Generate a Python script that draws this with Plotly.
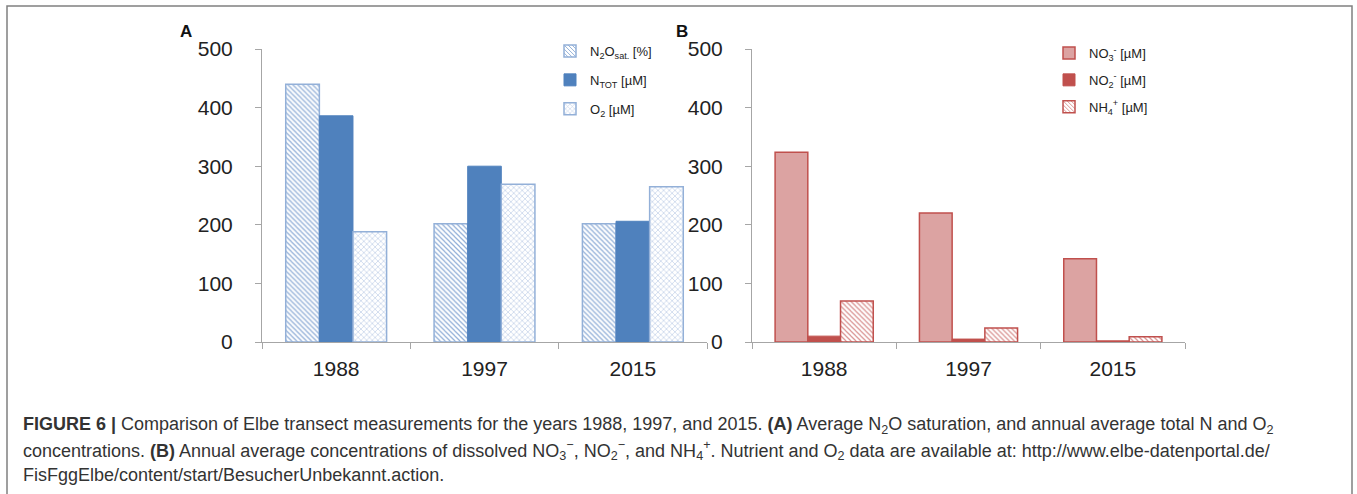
import plotly.graph_objects as go

years = ["1988", "1997", "2015"]
n2o_sat = [440, 202, 202]
n_tot = [386, 300, 206]
o2 = [188, 269, 265]
no3 = [324, 220, 142]
no2 = [10, 5, 2]
nh4 = [70, 24, 9]
y_ticks = [0, 100, 200, 300, 400, 500]

W, H = 1357, 494
def px_x(v): return v / W
def px_y(v): return 1 - v / H

BLUE = "#4F81BD"
BLUE_L = "#93B0D8"
RED = "#C0504D"
RED_FILL = "#DCA3A2"
RED_L = "#DA9594"

fig = go.Figure()

fig.add_trace(go.Bar(x=years, y=n2o_sat, name="N<sub>2</sub>O<sub>sat.</sub> [%]",
                     xaxis="x", yaxis="y", legend="legend", legendgroup="a1",
                     marker=dict(color="white", line=dict(color=BLUE_L, width=1.5),
                                 pattern=dict(shape="\\", fgcolor=BLUE_L, bgcolor="white", size=3.5, solidity=0.35))))
fig.add_trace(go.Bar(x=years, y=n_tot, name="N<sub>TOT</sub> [µM]",
                     xaxis="x", yaxis="y", legend="legend", legendgroup="a2",
                     marker=dict(color=BLUE, line=dict(color=BLUE, width=1))))
fig.add_trace(go.Bar(x=years, y=o2, name="O<sub>2</sub> [µM]",
                     xaxis="x", yaxis="y", legend="legend", legendgroup="a3",
                     marker=dict(color="white", line=dict(color=BLUE_L, width=1.5),
                                 pattern=dict(shape="x", fgcolor="#BCCDE6", bgcolor="white", size=4, solidity=0.3))))

fig.add_trace(go.Bar(x=years, y=no3, name="NO<sub>3</sub><sup>-</sup> [µM]",
                     xaxis="x2", yaxis="y2", legend="legend2", legendgroup="b1",
                     marker=dict(color=RED_FILL, line=dict(color=RED, width=1.5))))
fig.add_trace(go.Bar(x=years, y=no2, name="NO<sub>2</sub><sup>-</sup> [µM]",
                     xaxis="x2", yaxis="y2", legend="legend2", legendgroup="b2",
                     marker=dict(color=RED, line=dict(color=RED, width=1))))
fig.add_trace(go.Bar(x=years, y=nh4, name="NH<sub>4</sub><sup>+</sup> [µM]",
                     xaxis="x2", yaxis="y2", legend="legend2", legendgroup="b3",
                     marker=dict(color="white", line=dict(color=RED, width=1.5),
                                 pattern=dict(shape="\\", fgcolor=RED_L, bgcolor="white", size=3.5, solidity=0.35))))

ydom = [px_y(342), px_y(49)]
axis_font = dict(family="Liberation Sans, Arial, sans-serif", size=21, color="#222")

def xaxis(dom, anchor):
    return dict(domain=dom, anchor=anchor, type="category", showline=True, linecolor="#A6A6A6", linewidth=1,
                ticks="outside", tickson="boundaries", ticklen=6, tickcolor="#A6A6A6",
                tickfont=axis_font, showgrid=False, zeroline=False, ticklabelstandoff=8,
                automargin=False)

def yaxis(dom, anchor):
    return dict(domain=dom, anchor=anchor, range=[0, 500], tickvals=y_ticks,
                showline=True, linecolor="#A6A6A6", linewidth=1, ticks="outside",
                ticklen=6, tickcolor="#A6A6A6", tickfont=axis_font, showgrid=False,
                zeroline=False, ticklabelstandoff=18, automargin=False)

leg_font = dict(family="Liberation Sans, Arial, sans-serif", size=13, color="#222")

fig.update_layout(
    template="none",
    width=W, height=H, margin=dict(l=0, r=0, t=0, b=0, autoexpand=False),
    paper_bgcolor="white", plot_bgcolor="white",
    barmode="group", bargap=0.32, bargroupgap=0,
    xaxis=xaxis([px_x(262), px_x(707)], "y"),
    yaxis=yaxis(ydom, "x"),
    xaxis2=xaxis([px_x(752), px_x(1185)], "y2"),
    yaxis2=yaxis(ydom, "x2"),
    legend=dict(x=px_x(550), y=px_y(36), xanchor="left", yanchor="top", font=leg_font,
                traceorder="grouped", tracegroupgap=9, bgcolor="rgba(0,0,0,0)", itemwidth=30),
    legend2=dict(x=px_x(1049), y=px_y(38), xanchor="left", yanchor="top", font=leg_font,
                 traceorder="grouped", tracegroupgap=7, bgcolor="rgba(0,0,0,0)", itemwidth=30),
    showlegend=True,
)

panel_font = dict(family="Liberation Sans, Arial, sans-serif", size=17, color="#111")
fig.add_annotation(text="<b>A</b>", x=px_x(178), y=px_y(32), xref="paper", yref="paper",
                   xanchor="left", yanchor="middle", showarrow=False, font=panel_font)
fig.add_annotation(text="<b>B</b>", x=px_x(674), y=px_y(32), xref="paper", yref="paper",
                   xanchor="left", yanchor="middle", showarrow=False, font=panel_font)

cap_font = dict(family="Liberation Sans, Arial, sans-serif", size=18, color="#333")
cap_lines = [
    "<b>FIGURE 6 |</b> Comparison of Elbe transect measurements for the years 1988, 1997, and 2015. <b>(A)</b> Average N<sub>2</sub>O saturation, and annual average total N and O<sub>2</sub>",
    "concentrations. <b>(B)</b> Annual average concentrations of dissolved NO<sub>3</sub><sup>−</sup>, NO<sub>2</sub><sup>−</sup>, and NH<sub>4</sub><sup>+</sup>. Nutrient and O<sub>2</sub> data are available at: http://www.elbe-datenportal.de/",
    "FisFggElbe/content/start/BesucherUnbekannt.action.",
]
for i, t in enumerate(cap_lines):
    fig.add_annotation(text=t, x=px_x(21), y=px_y(425 + 25 * i), xref="paper", yref="paper",
                       xanchor="left", yanchor="middle", showarrow=False, font=cap_font, align="left")

fig.add_shape(type="rect", xref="paper", yref="paper", x0=px_x(7), x1=px_x(1352),
              y0=-0.05, y1=px_y(6), line=dict(color="#808080", width=1.5), fillcolor="rgba(0,0,0,0)")

fig.write_html("out.html")
